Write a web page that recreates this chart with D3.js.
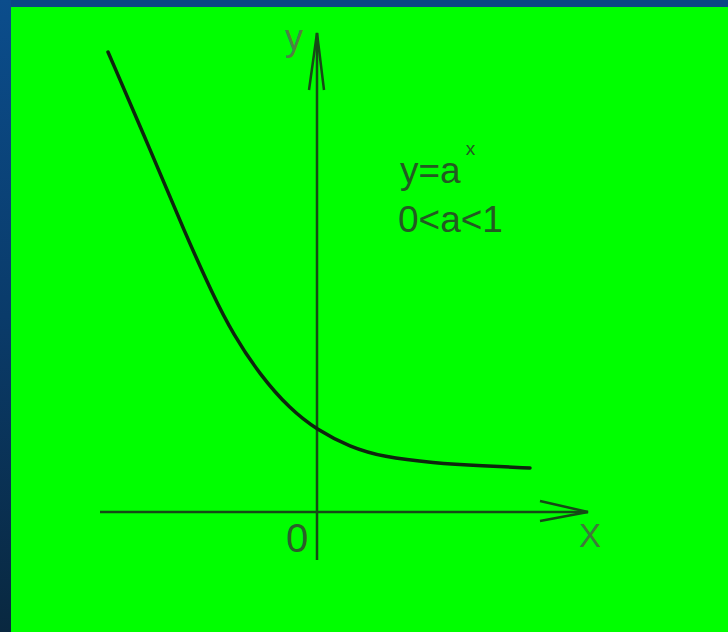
<!DOCTYPE html>
<html>
<head>
<meta charset="utf-8">
<script src="https://cdn.jsdelivr.net/npm/d3@7/dist/d3.min.js"></script>
<style>
  html, body { margin: 0; padding: 0; background: #00ff00; }
  svg { display: block; }
</style>
</head>
<body>
<svg id="chart" width="728" height="632"></svg>
<script>
// Curve y = a^x with 0 < a < 1, sketched through these points (x, y in axis units)
const curveX = [-4.18, -3.34, -2.64, -2.08, -1.68, -1.14, -0.54, 0, 0.66, 1.32, 2.32, 3.32, 4.26];
const curveY = [9.2, 7.26, 5.58, 4.34, 3.56, 2.74, 2.06, 1.64, 1.3, 1.1, 0.98, 0.92, 0.88];

// Axis extents (axis units)
const xAxisExtent = [-4.34, 5.42];
const yAxisExtent = [-0.96, 9.58];

// Text
const axisLabels = { x: "X", y: "y", origin: "0" };
const formulaBase = "y=a";
const formulaExp = "x";
const condition = "0<a<1";

const W = 728, H = 632;
const svg = d3.select("#chart");

// Slide frame: dark blue strips along the top and left edges
const defs = svg.append("defs");
const grad = defs.append("linearGradient").attr("id", "frameGrad")
  .attr("x1", 0).attr("y1", 0).attr("x2", 0).attr("y2", 1);
grad.append("stop").attr("offset", "0%").attr("stop-color", "#0b4d8c");
grad.append("stop").attr("offset", "50%").attr("stop-color", "#0a3b6a");
grad.append("stop").attr("offset", "100%").attr("stop-color", "#092840");

svg.append("rect").attr("x", 0).attr("y", 0).attr("width", W).attr("height", H).attr("fill", "#00ff00");
svg.append("rect").attr("x", 0).attr("y", 0).attr("width", W).attr("height", 7).attr("fill", "#0b4785");
svg.append("rect").attr("x", 0).attr("y", 0).attr("width", 11).attr("height", H).attr("fill", "url(#frameGrad)");

// Scales: 50 px per unit, origin at (317, 512)
const x = d3.scaleLinear().domain([0, 1]).range([317, 367]);
const y = d3.scaleLinear().domain([0, 1]).range([512, 462]);

const axisColor = "#164a16";
const g = svg.append("g");

// x axis with open arrowhead
g.append("line")
  .attr("x1", x(xAxisExtent[0])).attr("y1", y(0))
  .attr("x2", x(xAxisExtent[1])).attr("y2", y(0))
  .attr("stroke", axisColor).attr("stroke-width", 2.5);
const xt = x(xAxisExtent[1]);
g.append("path")
  .attr("d", `M${xt - 48},${y(0) - 11} L${xt},${y(0)} L${xt - 48},${y(0) + 9}`)
  .attr("fill", "none").attr("stroke", axisColor).attr("stroke-width", 2.5)
  .attr("stroke-linejoin", "miter");

// y axis with open arrowhead
g.append("line")
  .attr("x1", x(0)).attr("y1", y(yAxisExtent[0]))
  .attr("x2", x(0)).attr("y2", y(yAxisExtent[1]))
  .attr("stroke", axisColor).attr("stroke-width", 2.5);
const yt = y(yAxisExtent[1]);
g.append("path")
  .attr("d", `M${x(0) - 8},${yt + 57} L${x(0)},${yt} L${x(0) + 7},${yt + 57}`)
  .attr("fill", "none").attr("stroke", axisColor).attr("stroke-width", 2.5)
  .attr("stroke-linejoin", "miter");

// The exponential curve, smoothed through the sketch points
const pts = curveX.map((v, i) => [v, curveY[i]]);
const line = d3.line().x(d => x(d[0])).y(d => y(d[1])).curve(d3.curveBasis);
g.append("path")
  .attr("d", line(pts))
  .attr("fill", "none").attr("stroke", "#0e260e").attr("stroke-width", 3.5)
  .attr("stroke-linecap", "round");

// Labels
const font = "Liberation Sans, Arial, sans-serif";
g.append("text").attr("x", 285).attr("y", 50)
  .attr("font-family", font).attr("font-size", 36).attr("fill", "#4f7f45")
  .text(axisLabels.y);
g.append("text").attr("x", 286).attr("y", 552)
  .attr("font-family", font).attr("font-size", 40).attr("fill", "#2c5e2a")
  .text(axisLabels.origin);
g.append("text").attr("x", 579).attr("y", 547)
  .attr("font-family", font).attr("font-size", 33).attr("fill", "#3f7a3a")
  .text(axisLabels.x);

const formula = g.append("text").attr("x", 400).attr("y", 183)
  .attr("font-family", font).attr("font-size", 37).attr("fill", "#235a22");
formula.append("tspan").text(formulaBase);
formula.append("tspan").attr("font-size", 19).attr("dx", 5).attr("dy", -28).text(formulaExp);

g.append("text").attr("x", 398).attr("y", 232)
  .attr("font-family", font).attr("font-size", 37).attr("fill", "#235a22")
  .text(condition);
</script>
</body>
</html>
